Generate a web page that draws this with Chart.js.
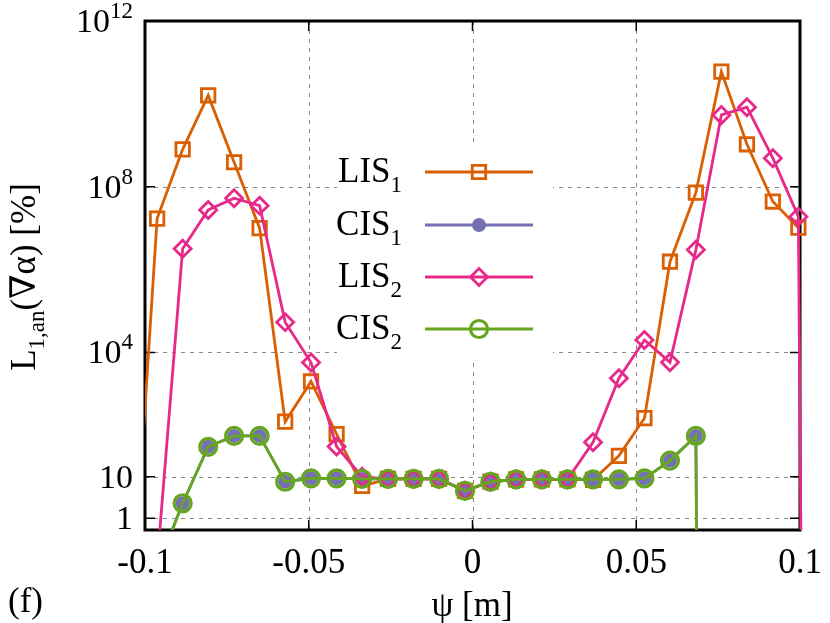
<!DOCTYPE html>
<html>
<head>
<meta charset="utf-8">
<script src="https://cdn.jsdelivr.net/npm/chart.js@4.4.1/dist/chart.umd.min.js"></script>
<style>
  html, body { margin: 0; padding: 0; background: #fff; }
  canvas { display: block; }
</style>
</head>
<body>
<canvas id="chart" width="830" height="623"></canvas>
<script>
// psi positions of the samples (first and last lie just outside the axis range)
const psi = [-0.1041, -0.0963, -0.0885, -0.0807, -0.0728, -0.0650, -0.0572, -0.0493, -0.0415, -0.0337,
    -0.0258, -0.0180, -0.0102, -0.0023, 0.0055, 0.0133, 0.0212, 0.0290, 0.0368, 0.0447,
    0.0525, 0.0603, 0.0682, 0.0760, 0.0838, 0.0917, 0.0995, 0.1073];
const lis1 = [0.004, 1.7e7, 8e8, 1.6e10, 3.9e8, 1e7, 214, 2000, 107, 6.0,
    8.9, 8.9, 8.9, 4.6, 7.6, 8.7, 8.7, 8.7, 8.4, 32,
    260, 1.55e6, 7.2e7, 6e10, 1.06e9, 4.4e7, 1.03e7, null];
const cis1 = [null, 0.06, 2.3, 53, 97, 97, 7.6, 9.2, 9.2, 8.9,
    8.9, 8.9, 8.9, 4.6, 7.6, 8.7, 8.7, 8.7, 8.7, 8.7,
    9.2, 24.6, 97, 1e-80, null, null, null, null];
const lis2 = [null, 0.08, 3.2e6, 2.75e7, 5.3e7, 3.5e7, 5.4e4, 5700, 54, 10,
    8.9, 8.9, 8.9, 4.6, 7.6, 8.7, 8.7, 8.7, 68, 2400,
    2e4, 5800, 3e6, 5.4e9, 8.3e9, 4.9e8, 1.9e7, 1e-70];
const cis2 = [null, 0.06, 2.3, 53, 97, 97, 7.6, 9.2, 9.2, 8.9,
    8.9, 8.9, 8.9, 4.6, 7.6, 8.7, 8.7, 8.7, 8.7, 8.7,
    9.2, 24.6, 97, 1e-80, null, null, null, null];

const seriesNames = ["LIS", "CIS", "LIS", "CIS"];
const seriesSubs = ["1", "1", "2", "2"];

const xTicks = [-0.1, -0.05, 0, 0.05, 0.1];
const xTickLabels = ["-0.1", "-0.05", "0", "0.05", "0.1"];
const xGrid = [-0.05, 0, 0.05];
const yTicks = [1, 10, 1e4, 1e8, 1e12];
const yTickBase = ["1", "10", "10", "10", "10"];
const yTickExp = ["", "", "4", "8", "12"];
const yGrid = [1, 10, 1e4, 1e8];

const FONT = '"Liberation Serif", "Times New Roman", "DejaVu Serif", serif';
const colors = ["#D95F02", "#7570B3", "#E7298A", "#66A61E"];
const styles = [
    { pointStyle: "rect", radius: 9.5, fill: false, width: 2.8 },
    { pointStyle: "circle", radius: 7, fill: true, width: 0 },
    { pointStyle: "rectRot", radius: 8.5, fill: false, width: 2.8 },
    { pointStyle: "circle", radius: 8.5, fill: false, width: 3.2 }
];

function toPoints(values) {
    return psi.map((x, i) => ({ x: x, y: values[i] }));
}

function makeDataset(label, values, ix, order) {
    let st = styles[ix];
    return {
        label: label,
        data: toPoints(values),
        borderColor: colors[ix],
        borderWidth: 2.8,
        pointStyle: st.pointStyle,
        pointRadius: st.radius,
        pointBorderColor: colors[ix],
        pointBorderWidth: st.width,
        pointBackgroundColor: st.fill ? colors[ix] : "rgba(0,0,0,0)",
        fill: false,
        tension: 0,
        order: order,
        clip: { left: 0, top: 6, right: 9, bottom: 0 }
    };
}

// draws a run of [text, size, dy] pieces
function drawPieces(ctx, pieces, x, y, align) {
    let total = 0;
    pieces.forEach(p => {
        ctx.font = p[1] + "px " + FONT;
        total += ctx.measureText(p[0]).width;
    });
    let cx = x;
    if (align === "right") cx = x - total;
    if (align === "center") cx = x - total / 2;
    ctx.textAlign = "left";
    ctx.textBaseline = "alphabetic";
    pieces.forEach(p => {
        ctx.font = p[1] + "px " + FONT;
        ctx.fillText(p[0], cx, y + p[2]);
        cx += ctx.measureText(p[0]).width;
    });
}

function drawMarker(ctx, ix, x, y) {
    let st = styles[ix];
    let r = st.radius;
    ctx.beginPath();
    if (st.pointStyle === "rect") {
        let s = Math.SQRT1_2 * r;
        ctx.rect(x - s, y - s, 2 * s, 2 * s);
    } else if (st.pointStyle === "rectRot") {
        ctx.moveTo(x - r, y);
        ctx.lineTo(x, y - r);
        ctx.lineTo(x + r, y);
        ctx.lineTo(x, y + r);
        ctx.closePath();
    } else {
        ctx.arc(x, y, r, 0, Math.PI * 2);
    }
    if (st.fill) {
        ctx.fillStyle = colors[ix];
        ctx.fill();
    }
    if (st.width > 0) {
        ctx.lineWidth = st.width;
        ctx.strokeStyle = colors[ix];
        ctx.stroke();
    }
}

const framePlugin = {
    id: "frame",
    beforeDatasetsDraw(chart) {
        const ctx = chart.ctx;
        const a = chart.chartArea;
        const xs = chart.scales.x, ys = chart.scales.y;
        ctx.save();
        // dashed grid
        ctx.strokeStyle = "#8a8a8a";
        ctx.lineWidth = 1;
        ctx.setLineDash([4, 5]);
        yGrid.forEach(v => {
            let py = Math.round(ys.getPixelForValue(v)) + 0.5;
            ctx.beginPath(); ctx.moveTo(a.left, py); ctx.lineTo(a.right, py); ctx.stroke();
        });
        xGrid.forEach(v => {
            let px = Math.round(xs.getPixelForValue(v)) + 0.5;
            ctx.beginPath(); ctx.moveTo(px, a.top); ctx.lineTo(px, a.bottom); ctx.stroke();
        });
        ctx.setLineDash([]);
        // key box background
        ctx.fillStyle = "#fff";
        ctx.fillRect(337, 147, 216, 211);
        // ticks
        ctx.strokeStyle = "#000";
        ctx.lineWidth = 1.5;
        yTicks.forEach(v => {
            let py = ys.getPixelForValue(v);
            ctx.beginPath();
            ctx.moveTo(a.left, py); ctx.lineTo(a.left + 10, py);
            ctx.moveTo(a.right, py); ctx.lineTo(a.right - 10, py);
            ctx.stroke();
        });
        xTicks.forEach(v => {
            let px = xs.getPixelForValue(v);
            ctx.beginPath();
            ctx.moveTo(px, a.bottom); ctx.lineTo(px, a.bottom - 10);
            ctx.moveTo(px, a.top); ctx.lineTo(px, a.top + 10);
            ctx.stroke();
        });
        // frame
        ctx.lineWidth = 3;
        ctx.strokeRect(a.left, a.top, a.right - a.left, a.bottom - a.top);
        ctx.restore();
    },
    afterDatasetsDraw(chart) {
        const ctx = chart.ctx;
        const xs = chart.scales.x, ys = chart.scales.y;
        ctx.save();
        ctx.fillStyle = "#000";
        // tick labels
        yTicks.forEach((v, i) => {
            let py = ys.getPixelForValue(v);
            let pieces = [[yTickBase[i], 34, 0]];
            if (yTickExp[i]) pieces.push([yTickExp[i], 23, -14]);
            drawPieces(ctx, pieces, 133, py + 11, "right");
        });
        xTicks.forEach((v, i) => {
            drawPieces(ctx, [[xTickLabels[i], 35, 0]], xs.getPixelForValue(v), 573, "center");
        });
        // axis titles
        drawPieces(ctx, [["ψ [m]", 35, 0]], 472, 616, "center");
        drawPieces(ctx, [["(f)", 35, 0]], 8, 612, "left");
        ctx.save();
        ctx.translate(35, 277);
        ctx.rotate(-Math.PI / 2);
        drawPieces(ctx, [["L", 35, 0], ["1,an", 23, 9], ["(∇α) [%]", 35, 0]], 0, 0, "center");
        ctx.restore();
        // key
        const rows = [172, 225, 277, 329];
        rows.forEach((ry, i) => {
            ctx.fillStyle = "#000";
            drawPieces(ctx, [[seriesNames[i], 35, 0], [seriesSubs[i], 23, 10]], 402, ry + 9.5, "right");
            ctx.strokeStyle = colors[i];
            ctx.lineWidth = 2.8;
            ctx.beginPath(); ctx.moveTo(425, ry); ctx.lineTo(533, ry); ctx.stroke();
            drawMarker(ctx, i, 479, ry);
        });
        ctx.restore();
    }
};

new Chart(document.getElementById("chart"), {
    type: "line",
    data: {
        datasets: [
            makeDataset("LIS1", lis1, 0, 3),
            makeDataset("CIS1", cis1, 1, 2),
            makeDataset("LIS2", lis2, 2, 1),
            makeDataset("CIS2", cis2, 3, 0)
        ]
    },
    options: {
        responsive: false,
        animation: false,
        devicePixelRatio: 1,
        events: [],
        layout: { padding: { left: 145, top: 21, right: 30, bottom: 93 } },
        scales: {
            x: { type: "linear", min: -0.1, max: 0.1, display: false },
            y: { type: "logarithmic", min: 0.52, max: 1e12, display: false }
        },
        plugins: {
            legend: { display: false },
            tooltip: { enabled: false }
        }
    },
    plugins: [framePlugin]
});
</script>
</body>
</html>
